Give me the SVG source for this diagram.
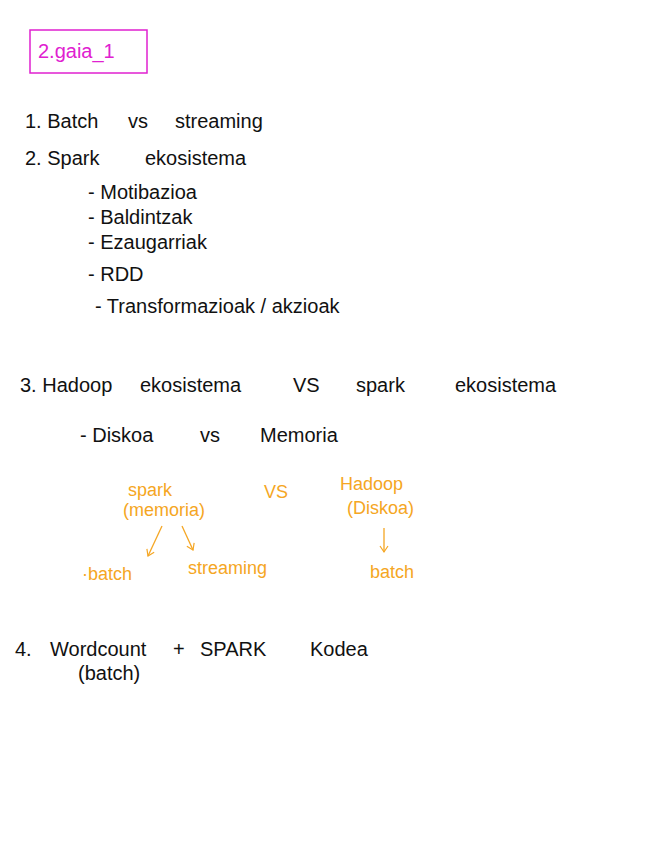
<svg xmlns="http://www.w3.org/2000/svg" width="646" height="848" viewBox="0 0 646 848">
<style>
.k{font-family:"Liberation Sans",sans-serif;fill:#111;font-size:20px}
.o{font-family:"Liberation Sans",sans-serif;fill:#f5a623;font-size:18px}
.m{font-family:"Liberation Sans",sans-serif;fill:#e020d0;font-size:20px}
</style>
<defs><marker id="a" markerWidth="10" markerHeight="10" refX="8" refY="5" orient="auto" markerUnits="userSpaceOnUse"><path d="M2,1 L8,5 L2,9" fill="none" stroke="#f5a623" stroke-width="1.2"/></marker></defs>
<rect width="646" height="848" fill="#fff"/>
<g id="title"><rect x="30" y="30" width="117" height="43" fill="none" stroke="#e020d0" stroke-width="1.5"/><text class="m" x="38" y="58">2.gaia_1</text></g>
<g id="list">
<text class="k" x="25" y="128">1. Batch</text><text class="k" x="128" y="128">vs</text><text class="k" x="175" y="128">streaming</text>
<text class="k" x="25" y="165">2. Spark</text><text class="k" x="145" y="165">ekosistema</text>
<text class="k" x="88" y="199">- Motibazioa</text>
<text class="k" x="88" y="224">- Baldintzak</text>
<text class="k" x="88" y="249">- Ezaugarriak</text>
<text class="k" x="88" y="281">- RDD</text>
<text class="k" x="95" y="313">- Transformazioak / akzioak</text>
<text class="k" x="20" y="392">3. Hadoop</text><text class="k" x="140" y="392">ekosistema</text><text class="k" x="293" y="392">VS</text><text class="k" x="356" y="392">spark</text><text class="k" x="455" y="392">ekosistema</text>
<text class="k" x="80" y="442">- Diskoa</text><text class="k" x="200" y="442">vs</text><text class="k" x="260" y="442">Memoria</text>
<text class="k" x="15" y="656">4.</text><text class="k" x="50" y="656">Wordcount</text><text class="k" x="173" y="656">+</text><text class="k" x="200" y="656">SPARK</text><text class="k" x="310" y="656">Kodea</text>
<text class="k" x="78" y="680" font-size="17">(batch)</text>
</g>
<g id="spark"><text class="o" x="128" y="496">spark</text><text class="o" x="123" y="516">(memoria)</text></g>
<g id="vs"><text class="o" x="264" y="498">VS</text></g>
<g id="hadoop"><text class="o" x="340" y="490">Hadoop</text><text class="o" x="347" y="514">(Diskoa)</text></g>
<g id="b1"><text class="o" x="82" y="580">·batch</text></g>
<g id="st"><text class="o" x="188" y="574">streaming</text></g>
<g id="b2"><text class="o" x="370" y="578">batch</text></g>
<g id="connectors" stroke="#f5a623" stroke-width="1.3" fill="none">
<path d="M162,526 L148,556" marker-end="url(#a)"/>
<path d="M182,526 L193,550" marker-end="url(#a)"/>
<path d="M384,528 L384,552" marker-end="url(#a)"/>
</g>
</svg>
